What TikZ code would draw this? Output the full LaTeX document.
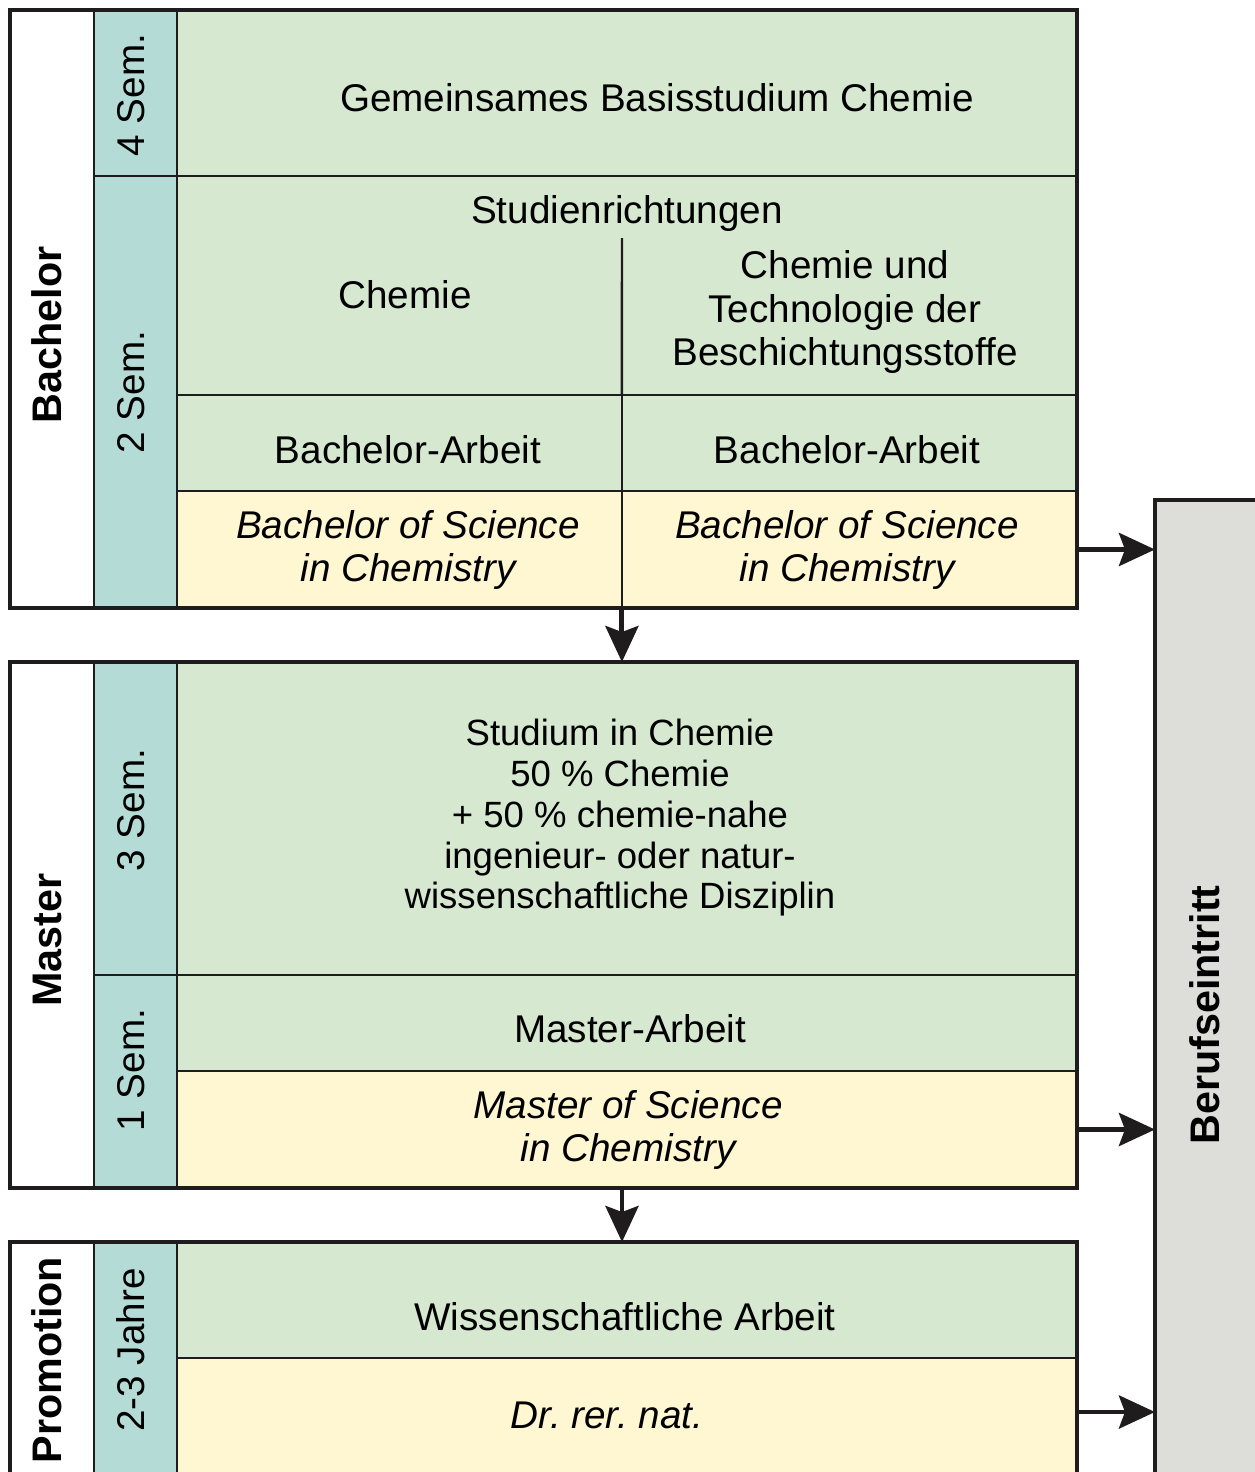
\documentclass[tikz,border=0pt]{standalone}
\usepackage{fontspec}
\setmainfont{Liberation Sans}
\usetikzlibrary{arrows.meta}
\definecolor{cgreen}{RGB}{214,232,208}
\definecolor{cteal}{RGB}{181,219,214}
\definecolor{cyellow}{RGB}{255,246,210}
\definecolor{cgrey}{RGB}{221,221,218}
\definecolor{cline}{RGB}{30,28,28}
\frenchspacing
\begin{document}
\begin{tikzpicture}[x=0.02cm,y=-0.02cm,
 cell/.style={draw=cline, line width=1.4pt, inner sep=0pt, outer sep=0pt, anchor=north west},
 frame/.style={draw=cline, line width=2.4pt, inner sep=0pt, outer sep=0pt, anchor=north west},
 txt/.style={font=\fontsize{22}{24.6}\selectfont, align=center, inner sep=0pt},
 itxt/.style={txt, font=\fontsize{22}{24.6}\selectfont\itshape},
 stxt/.style={txt, font=\fontsize{20.8}{23.2}\selectfont},
 vtxt/.style={txt, rotate=90},
 btxt/.style={font=\fontsize{23.5}{26}\selectfont\bfseries, rotate=90, inner sep=0pt},
 arr/.style={draw=cline, line width=2.8pt, -{Stealth[length=0.72cm,width=0.66cm,inset=0.12cm]}}]
\useasboundingbox (0,0) rectangle (1255,1472);
\begin{scope}
\clip (0,0) rectangle (1255,1472);
% ---------- Bachelor ----------
\node[cell, fill=white, minimum width=1.68cm, minimum height=11.96cm] (bcol) at (10,10) {};
\node[cell, fill=cteal, minimum width=1.66cm, minimum height=3.32cm] (b4) at (94,10) {};
\node[cell, fill=cteal, minimum width=1.66cm, minimum height=8.64cm] (b2) at (94,176) {};
\node[cell, fill=cgreen, minimum width=18cm, minimum height=3.32cm] (basis) at (177,10) {};
\node[cell, fill=cgreen, minimum width=18cm, minimum height=4.38cm] (richt) at (177,176) {};
\node[cell, fill=cgreen, minimum width=8.9cm, minimum height=1.92cm] (baL) at (177,395) {};
\node[cell, fill=cgreen, minimum width=9.1cm, minimum height=1.92cm] (baR) at (622,395) {};
\node[cell, fill=cyellow, minimum width=8.9cm, minimum height=2.34cm] (bscL) at (177,491) {};
\node[cell, fill=cyellow, minimum width=9.1cm, minimum height=2.34cm] (bscR) at (622,491) {};
\coordinate (divtop) at (622,238);
\draw[line width=1.4pt, cline] (divtop) -- (baL.north east);
\node[frame, minimum width=21.34cm, minimum height=11.96cm] (bach) at (10,10) {};
\node[txt] (tbasis) at (657,98) {Gemeinsames Basisstudium Chemie};
\node[txt] (trich) at (627,213) {Studienrichtungen};
\node[txt] (tchem) at (405,295) {Chemie};
\node[txt] (tctb) at (845,312) {Chemie und\\Technologie der\\Beschichtungsstoffe};
\node[txt] (tbaL) at (408,450) {Bachelor-Arbeit};
\node[txt] (tbaR) at (847,450) {Bachelor-Arbeit};
\node[itxt] (tbscL) at (408,550) {Bachelor of Science\\in Chemistry};
\node[itxt] (tbscR) at (847,550) {Bachelor of Science\\in Chemistry};
\node[btxt] (tbach) at (47,335) {Bachelor};
\node[vtxt] (tb4) at (131,95) {4 Sem.};
\node[vtxt] (tb2) at (131,392) {2 Sem.};
% ---------- Master ----------
\node[cell, fill=white, minimum width=1.68cm, minimum height=10.52cm] (mcol) at (10,662) {};
\node[cell, fill=cteal, minimum width=1.66cm, minimum height=6.26cm] (m3) at (94,662) {};
\node[cell, fill=cteal, minimum width=1.66cm, minimum height=4.26cm] (m1) at (94,975) {};
\node[cell, fill=cgreen, minimum width=18cm, minimum height=6.26cm] (mstud) at (177,662) {};
\node[cell, fill=cgreen, minimum width=18cm, minimum height=1.92cm] (marb) at (177,975) {};
\node[cell, fill=cyellow, minimum width=18cm, minimum height=2.34cm] (msc) at (177,1071) {};
\node[frame, minimum width=21.34cm, minimum height=10.52cm] (master) at (10,662) {};
\node[stxt] (tstud) at (620,818) {Studium in Chemie\\50 \% Chemie\\+ 50 \% chemie-nahe\\ingenieur- oder natur-\\wissenschaftliche Disziplin};
\node[txt] (tmarb) at (630,1029) {Master-Arbeit};
\node[itxt] (tmsc) at (628,1130) {Master of Science\\in Chemistry};
\node[btxt] (tmaster) at (47,940) {Master};
\node[vtxt] (tm3) at (131,810) {3 Sem.};
\node[vtxt] (tm1) at (131,1070) {1 Sem.};
% ---------- Promotion ----------
\node[cell, fill=white, minimum width=1.68cm, minimum height=5.56cm] (pcol) at (10,1242) {};
\node[cell, fill=cteal, minimum width=1.66cm, minimum height=5.56cm] (p23) at (94,1242) {};
\node[cell, fill=cgreen, minimum width=18cm, minimum height=2.32cm] (warb) at (177,1242) {};
\node[cell, fill=cyellow, minimum width=18cm, minimum height=3.24cm] (dr) at (177,1358) {};
\node[frame, minimum width=21.34cm, minimum height=5.56cm] (promo) at (10,1242) {};
\node[txt] (twarb) at (625,1317) {Wissenschaftliche Arbeit};
\node[itxt] (tdr) at (607,1415) {Dr. rer. nat.};
\node[btxt] (tpromo) at (47,1360) {Promotion};
\node[vtxt] (tp23) at (131,1350) {2-3 Jahre};
% ---------- Berufseintritt ----------
\node[frame, fill=cgrey, minimum width=2.9cm, minimum height=20.4cm] (beruf) at (1155,500) {};
\node[btxt] (tberuf) at (1205,1015) {Berufseintritt};
% ---------- arrows ----------
\draw[arr] (bscR.east) -- (bscR.east -| beruf.west);
\draw[arr] (msc.east) -- (msc.east -| beruf.west);
\coordinate (drout) at (1077,1412);
\draw[arr] (drout) -- (drout -| beruf.west);
\draw[arr] (bscL.south east) -- (bscL.south east |- master.north);
\coordinate (mout) at (622,1188);
\draw[arr] (mout) -- (mout |- promo.north);
\end{scope}
\end{tikzpicture}
\end{document}
